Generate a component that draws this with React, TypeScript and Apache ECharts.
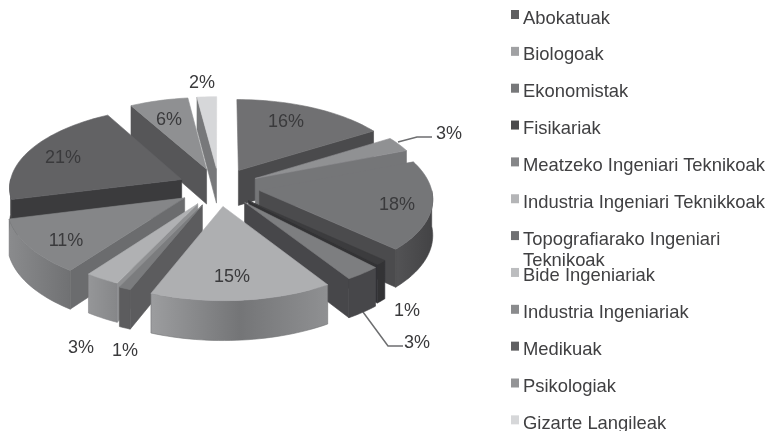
import React, { useEffect, useRef } from "react";
import * as echarts from "echarts";

const categories = [
  "Abokatuak", "Biologoak", "Ekonomistak", "Fisikariak",
  "Meatzeko Ingeniari Teknikoak", "Industria Ingeniari Teknikkoak",
  "Topografiarako Ingeniari\nTeknikoak", "Bide Ingeniariak",
  "Industria Ingeniariak", "Medikuak", "Psikologiak", "Gizarte Langileak",
];
const values = [16, 3, 18, 1, 3, 15, 1, 3, 11, 21, 6, 2];

const topColors = ["#707072", "#909193", "#757678", "#3c3c3e", "#7d7e80", "#aeafb1", "#7b7c7e", "#b0b1b3", "#858688", "#626264", "#8f9092", "#d6d7d9"];
const sideColors = ["#4a4a4c", "#757678", "#4b4b4d", "#333335", "#47474a", "#808183", "#5c5c5e", "#8f9092", "#6b6c6e", "#3b3b3d", "#565658", "#77787a"];
const outerStops: string[][] = [
  ["#4a4a4c", "#4a4a4c"], ["#757678", "#757678"], ["#535355", "#434345"], ["#333335", "#333335"],
  ["#47474a", "#47474a"], ["#9c9d9f", "#747577", "#8f9092"], ["#5c5c5e", "#5c5c5e"], ["#959698", "#868789"],
  ["#8a8b8d", "#707173"], ["#3b3b3d", "#3b3b3d"], ["#565658", "#565658"], ["#77787a", "#77787a"],
];
const legendColors = ["#5f5f61", "#a0a1a3", "#77787a", "#4a4a4c", "#858688", "#b4b5b7", "#707173", "#bcbdbf", "#8a8b8d", "#5f5f61", "#939496", "#d6d7d9"];

// Layout (pixels and scale factors), not data
const labelPos: [number, number][] = [
  [286, 121], [449, 133], [397, 204], [407, 310], [417, 342], [232, 276],
  [125, 350], [81, 347], [66, 240], [63, 157], [169, 119], [202, 82],
];
const radiusScale = [0.975, 0.97, 0.975, 0.97, 0.985, 1, 0.98, 0.95, 0.99, 0.98, 0.99, 0.99];
const CX = 219, CY = 187, R0 = 176, KY = 82, P = 0.09, DEPTH = 35.5, EXPLODE = 0.233;

const total = values.reduce((a, b) => a + b, 0);
const starts: number[] = [];
values.reduce((acc, v, i) => { starts[i] = acc; return acc + v; }, 0);
const toAngle = (v: number) => (v / total) * Math.PI * 2;

const midY = (i: number) => -Math.cos(toAngle(starts[i] + values[i] / 2));
const order = values.map((_, i) => i).sort((a, b) => midY(a) - midY(b));

function project(X: number, Y: number, h: number): [number, number] {
  const s = 1 / (1 - P * Y);
  return [CX + R0 * X * s, CY + KY * Y * s + h * DEPTH * s];
}

function renderSlice(params: any, api: any) {
  const i = params.dataIndex;
  const v = api.value(0);
  const a1 = toAngle(starts[i]);
  const a2 = a1 + toAngle(v);
  const m = (a1 + a2) / 2;
  const ox = EXPLODE * Math.sin(m), oy = -EXPLODE * Math.cos(m);
  const r = radiusScale[i];
  const pt = (a: number, h: number) => project(ox + r * Math.sin(a), oy - r * Math.cos(a), h);
  const apex = (h: number) => project(ox, oy, h);
  const steps = Math.max(3, Math.ceil((a2 - a1) / 0.03));
  const arc = (from: number, to: number, h: number) => {
    const pts: [number, number][] = [];
    for (let k = 0; k <= steps; k++) pts.push(pt(from + ((to - from) * k) / steps, h));
    return pts;
  };
  const z = (order.indexOf(i) + 1) * 10;
  const poly = (points: [number, number][], fill: any, stroke: string, dz: number) => ({
    type: "polygon", z2: z + dz, silent: true,
    shape: { points },
    style: { fill, stroke, lineWidth: 0.6 },
  });
  const children: any[] = [];
  if (Math.sin(a1) < 0) {
    children.push(poly([apex(0), pt(a1, 0), pt(a1, 1), apex(1)], sideColors[i], sideColors[i], 1));
  }
  if (Math.sin(a2) > 0) {
    children.push(poly([apex(0), pt(a2, 0), pt(a2, 1), apex(1)], sideColors[i], sideColors[i], 1));
  }
  const f1 = Math.max(a1, Math.PI / 2), f2 = Math.min(a2, (Math.PI * 3) / 2);
  if (f2 > f1) {
    const stops = outerStops[i];
    const grad = {
      type: "linear", x: 0, y: 0, x2: 1, y2: 0,
      colorStops: stops.map((color, k) => ({ offset: k / (stops.length - 1), color })),
    };
    children.push(poly([...arc(f1, f2, 0), ...arc(f2, f1, 1)], grad, stops[1], 2));
  }
  children.push(poly([apex(0), ...arc(a1, a2, 0)], topColors[i], topColors[i], 3));
  const [lx, ly] = labelPos[i];
  children.push({
    type: "text", z2: 500, silent: true,
    style: {
      x: lx, y: ly, text: `${v}%`, fill: "#3a3a3c",
      font: '18px "Liberation Sans", Arial, sans-serif',
      align: "center", verticalAlign: "middle",
    },
  });
  return { type: "group", children };
}

const leaderColor = "#6d6e70";
const legendGraphic: any[] = [];
categories.forEach((name, i) => {
  const yc = 17 + i * 36.85;
  legendGraphic.push({
    type: "rect", silent: true,
    shape: { x: 511, y: yc - 7, width: 8, height: 9 },
    style: { fill: legendColors[i] },
  });
  name.split("\n").forEach((line, k) => {
    legendGraphic.push({
      type: "text", silent: true,
      style: {
        x: 523, y: yc + k * 21, text: line, fill: "#404042",
        font: '18.4px "Liberation Sans", Arial, sans-serif',
        align: "left", verticalAlign: "middle",
      },
    });
  });
});

export default function App() {
  const ref = useRef<HTMLDivElement>(null);
  useEffect(() => {
    const chart = echarts.init(ref.current!, null, { renderer: "svg" });
    chart.setOption({
      animation: false,
      backgroundColor: "#ffffff",
      series: [{
        type: "custom",
        coordinateSystem: "none",
        renderItem: renderSlice,
        data: values.map((v, i) => ({ name: categories[i], value: [v] })),
        silent: true,
        clip: false,
      }],
      graphic: [
        {
          type: "polyline", silent: true,
          shape: { points: [[398, 142], [417, 137], [432, 137]] },
          style: { stroke: leaderColor, lineWidth: 1.5, fill: "none" },
        },
        {
          type: "polyline", silent: true,
          shape: { points: [[363, 312], [388, 346], [403, 346]] },
          style: { stroke: leaderColor, lineWidth: 1.5, fill: "none" },
        },
        ...legendGraphic,
      ],
    });
    return () => chart.dispose();
  }, []);
  return <div ref={ref} style={{ position: "absolute", left: 0, top: 0, width: 769, height: 431, filter: "blur(0.5px)" }} />;
}
